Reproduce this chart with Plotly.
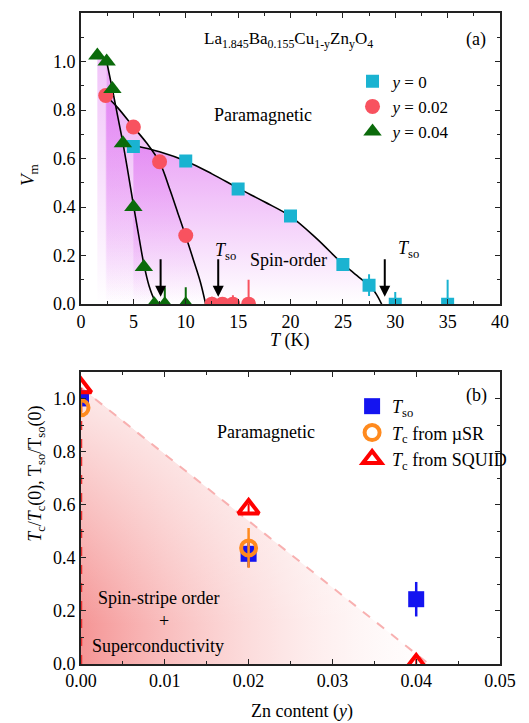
import plotly.graph_objects as go

# ---------------- (a) top panel data ----------------
T_y0 = [5.0, 10.0, 15.0, 20.0, 25.0, 27.5, 30.0, 35.0]
V_y0 = [0.65, 0.59, 0.475, 0.363, 0.163, 0.078, 0.0, 0.0]
E_y0 = [0, 0, 0, 0, 0, 0.045, 0.05, 0.10]

T_y2 = [2.36, 5.0, 7.5, 10.0, 12.5, 13.5, 14.5, 16.0]
V_y2 = [0.86, 0.73, 0.587, 0.283, 0.0, 0.0, 0.0, 0.0]
E_y2 = [0, 0, 0, 0, 0.03, 0.015, 0.037, 0.10]

T_y4 = [1.56, 2.45, 3.0, 4.0, 5.0, 6.0, 7.0, 8.0, 10.0]
V_y4 = [1.025, 1.0, 0.887, 0.663, 0.40, 0.153, 0.0, 0.0, 0.0]
E_y4 = [0, 0, 0, 0, 0, 0, 0.02, 0.07, 0.07]

# fitted curves
curve0_T = [5.0, 7.5, 10.0, 12.5, 15.0, 17.5, 20.0, 22.5, 25.0, 26.0, 27.0, 27.6, 28.2, 28.7]
curve0_V = [0.655, 0.628, 0.59, 0.537, 0.478, 0.422, 0.362, 0.27, 0.165, 0.13, 0.095, 0.075, 0.04, 0.0]
curve2_T = [2.36, 3.5, 5.0, 6.25, 7.5, 8.5, 9.25, 10.0, 10.75, 11.4, 11.9]
curve2_V = [0.86, 0.81, 0.73, 0.665, 0.585, 0.47, 0.375, 0.28, 0.18, 0.09, 0.0]
curve4_T = [2.45, 3.0, 3.5, 4.0, 4.5, 5.0, 5.5, 6.0, 6.5, 7.0, 7.4]
curve4_V = [1.0, 0.885, 0.775, 0.665, 0.54, 0.41, 0.285, 0.165, 0.075, 0.02, 0.0]

Tso_arrows = [7.6, 13.1, 29.0]

# ---------------- (b) bottom panel data ----------------
zn = [0.0, 0.02, 0.04]
Tso_norm = [1.0, 0.415, 0.244]
Tso_err = [0.0, 0.05, 0.065]
zn_musr = [0.0, 0.02]
Tc_musr = [0.965, 0.437]
Tc_musr_err = [0.03, 0.075]
Tc_squid = [1.04, 0.584, 0.0]
Tc_squid_err = [0.0, 0.02, 0.02]
boundary_x = [0.0, 0.0415]
boundary_y = [1.04, 0.0]

FONT = "'Liberation Serif', 'Times New Roman', Times, serif"
C0 = "#1ab3d1"
C2 = "#f8525f"
C4 = "#0b6b0b"
PURP = "220,105,240"

fig = go.Figure()

def vgrad(a_top):
    return dict(type="vertical",
                colorscale=[[0, f"rgba({PURP},0)"], [1, f"rgba({PURP},{a_top})"]])

# fills, panel (a)
fx = [T_y4[0], T_y4[0]] + curve4_T + [T_y4[0]]
fy = [0, V_y4[0]] + curve4_V + [0]
fig.add_trace(go.Scatter(x=fx, y=fy, fill="toself", mode="none", fillgradient=vgrad(0.4),
                         showlegend=False, hoverinfo="skip", xaxis="x", yaxis="y"))
for cT, cV, a in [(curve4_T, curve4_V, 0.4), (curve2_T, curve2_V, 0.5), (curve0_T, curve0_V, 0.6)]:
    fig.add_trace(go.Scatter(x=[cT[0]] + cT + [cT[0]], y=[0] + cV + [0], fill="toself", mode="none",
                             fillgradient=vgrad(a), showlegend=False, hoverinfo="skip",
                             xaxis="x", yaxis="y"))

# curves
for cT, cV in [(curve0_T, curve0_V), (curve2_T, curve2_V), (curve4_T, curve4_V)]:
    fig.add_trace(go.Scatter(x=cT, y=cV, mode="lines", line=dict(color="black", width=1.6, shape="spline"),
                             showlegend=False, hoverinfo="skip", xaxis="x", yaxis="y"))

# markers panel (a)
fig.add_trace(go.Scatter(x=T_y0, y=V_y0, mode="markers", name="<i>y</i> = 0",
                         marker=dict(symbol="square", size=13, color=C0),
                         error_y=dict(type="data", array=E_y0, color=C0, thickness=2, width=0),
                         xaxis="x", yaxis="y", legend="legend"))
fig.add_trace(go.Scatter(x=T_y2, y=V_y2, mode="markers", name="<i>y</i> = 0.02",
                         marker=dict(symbol="circle", size=15, color=C2),
                         error_y=dict(type="data", array=E_y2, color=C2, thickness=2, width=0),
                         xaxis="x", yaxis="y", legend="legend"))
fig.add_trace(go.Scatter(x=T_y4, y=V_y4, mode="markers", name="<i>y</i> = 0.04",
                         marker=dict(symbol="triangle-up", size=16, color=C4),
                         error_y=dict(type="data", array=E_y4, color=C4, thickness=2, width=0),
                         xaxis="x", yaxis="y", legend="legend"))

# ---------------- panel (b) ----------------
px_ = [boundary_x[0]] + boundary_x + [boundary_x[0]]
py_ = [0] + boundary_y + [0]
fig.add_trace(go.Scatter(x=px_, y=py_, fill="toself", mode="none",
                         fillgradient=dict(type="horizontal", start=0, stop=boundary_x[1],
                                           colorscale=[[0, "rgba(243,130,130,0.85)"],
                                                       [1, "rgba(255,240,240,0.1)"]]),
                         showlegend=False, hoverinfo="skip", xaxis="x2", yaxis="y2"))
fig.add_trace(go.Scatter(x=px_, y=py_, fill="toself", mode="none",
                         fillgradient=dict(type="vertical", start=0.15, stop=boundary_y[0],
                                           colorscale=[[0, "rgba(255,255,255,0)"],
                                                       [1, "rgba(255,255,255,0.8)"]]),
                         showlegend=False, hoverinfo="skip", xaxis="x2", yaxis="y2"))
fig.add_trace(go.Scatter(x=boundary_x, y=boundary_y, mode="lines",
                         line=dict(color="#f8b0b0", width=2, dash="dash"),
                         showlegend=False, hoverinfo="skip", xaxis="x2", yaxis="y2"))
fig.add_trace(go.Scatter(x=[boundary_x[0], boundary_x[0]], y=[0, boundary_y[0]], mode="lines",
                         line=dict(color="#e83030", width=2.5, dash="dash"), cliponaxis=False,
                         showlegend=False, hoverinfo="skip", xaxis="x2", yaxis="y2"))

fig.add_trace(go.Scatter(x=zn, y=Tso_norm, mode="markers", name="<i>T</i><sub>so</sub>",
                         marker=dict(symbol="square", size=16, color="#1414f0"),
                         error_y=dict(type="data", array=Tso_err, color="#1414f0", thickness=2.5, width=0),
                         xaxis="x2", yaxis="y2", legend="legend2"))
fig.add_trace(go.Scatter(x=zn_musr, y=Tc_musr, mode="markers", name="<i>T</i><sub>c</sub> from µSR",
                         marker=dict(symbol="circle-open", size=15, color="#ff8a1e", line=dict(width=4)),
                         error_y=dict(type="data", array=Tc_musr_err, color="#ff8a1e", thickness=2.5, width=0),
                         xaxis="x2", yaxis="y2", legend="legend2"))
fig.add_trace(go.Scatter(x=zn, y=Tc_squid, mode="markers", name="<i>T</i><sub>c</sub> from SQUID",
                         marker=dict(symbol="triangle-up-open", size=18, color="#ff0000", line=dict(width=4)),
                         error_y=dict(type="data", array=Tc_squid_err, color="#ff0000", thickness=2, width=0),
                         xaxis="x2", yaxis="y2", legend="legend2"))

axis_common = dict(showline=True, linecolor="#222", linewidth=1.6, mirror="allticks",
                   ticks="inside", ticklen=5, tickwidth=1.4, tickcolor="#222",
                   showgrid=False, zeroline=False,
                   tickfont=dict(family=FONT, size=18, color="black"))

# page body has an 8px margin: shift the figure margins to compensate
fig.update_layout(
    width=529, height=723,
    margin=dict(l=73, r=37, t=3, b=67),
    paper_bgcolor="white", plot_bgcolor="white",
    font=dict(family=FONT, size=17, color="black"),
    xaxis=dict(domain=[0, 1], anchor="y", range=[0, 40], dtick=5,
               minor=dict(dtick=2.5, ticks="inside", ticklen=3, tickcolor="#222"), **axis_common),
    yaxis=dict(domain=[0.5528, 1], anchor="x", range=[0, 1.2], dtick=0.2, tickformat=".1f",
               minor=dict(dtick=0.1, ticks="inside", ticklen=3, tickcolor="#222"), **axis_common),
    xaxis2=dict(domain=[0, 1], anchor="y2", range=[0, 0.05], dtick=0.01, tickformat=".2f",
                minor=dict(dtick=0.005, ticks="inside", ticklen=3, tickcolor="#222"), **axis_common),
    yaxis2=dict(domain=[0, 0.4487], anchor="x2", range=[0, 1.1], dtick=0.2, tickformat=".1f",
                minor=dict(dtick=0.1, ticks="inside", ticklen=3, tickcolor="#222"), **axis_common),
    legend=dict(x=0.648, y=0.922, xanchor="left", yanchor="top", bgcolor="rgba(0,0,0,0)",
                font=dict(family=FONT, size=17)),
    legend2=dict(x=0.647, y=0.424, xanchor="left", yanchor="top", bgcolor="rgba(0,0,0,0)",
                 font=dict(family=FONT, size=18)),
)

ann = []
def txt(x, y, s, xref="x", yref="y", size=18, **kw):
    d = dict(x=x, y=y, text=s, xref=xref, yref=yref, showarrow=False,
             font=dict(family=FONT, size=size, color="black"))
    d.update(kw)
    ann.append(d)

# panel (a) texts
txt(19.8, 1.089, "La<sub>1.845</sub>Ba<sub>0.155</sub>Cu<sub>1-y</sub>Zn<sub>y</sub>O<sub>4</sub>", size=17)
txt(37.7, 1.089, "(a)")
txt(17.4, 0.78, "Paramagnetic")
txt(19.8, 0.18, "Spin-order")
txt(13.8, 0.218, "<i>T</i><sub>so</sub>")
txt(31.3, 0.226, "<i>T</i><sub>so</sub>")
for t in Tso_arrows:
    ann.append(dict(x=t, y=0.03, xref="x", yref="y", ax=0, ay=-39, axref="pixel", ayref="pixel",
                    showarrow=True, arrowhead=2, arrowsize=1.1, arrowwidth=2, arrowcolor="black", text=""))

# panel (b) texts
txt(0.0472, 1.01, "(b)", xref="x2", yref="y2")
txt(0.0221, 0.872, "Paramagnetic", xref="x2", yref="y2")
txt(0.0093, 0.25, "Spin-stripe order", xref="x2", yref="y2")
txt(0.00985, 0.161, "+", xref="x2", yref="y2")
txt(0.0092, 0.066, "Superconductivity", xref="x2", yref="y2")

# axis titles (positions in reference pixels -> paper fractions of the 419x653 plot area)
def pxx(p):
    return (p - 81) / 419
def pxy(p):
    return (664 - p) / 653
txt(pxx(290), pxy(340), "<i>T</i> (K)", xref="paper", yref="paper", size=18)
txt(pxx(302), pxy(699), "Zn content (<i>y</i>)", xref="paper", yref="paper", size=18, yanchor="top")
txt(pxx(15), pxy(160), "<i>V</i><sub>m</sub>", xref="paper", yref="paper", size=19, textangle=-90)
txt(pxx(23), pxy(544),
    "<i>T</i><sub>c</sub>/<i>T</i><sub>c</sub>(0), T<sub>so</sub>/T<sub>so</sub>(0)",
    xref="paper", yref="paper", size=18, textangle=-90)

fig.update_layout(annotations=ann)
fig.write_html("out.html")
